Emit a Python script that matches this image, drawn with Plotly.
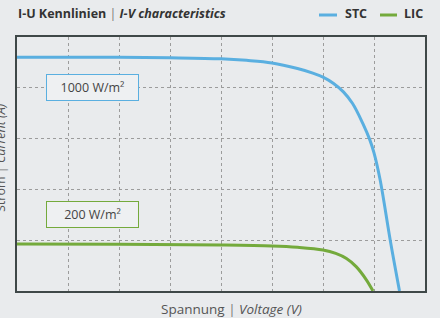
import plotly.graph_objects as go

# Data
stc_voltage = [0, 1, 2, 3, 4, 4.5, 5, 5.5, 5.8, 6, 6.2, 6.4, 6.58, 6.78, 6.92, 7.0, 7.12, 7.32, 7.5]
stc_current = [4.60, 4.60, 4.60, 4.59, 4.57, 4.54, 4.49, 4.38, 4.29, 4.21, 4.09, 3.92, 3.69, 3.30, 2.97, 2.72, 2.19, 0.99, 0]
lic_voltage = [0, 2, 4, 5, 5.5, 6, 6.25, 6.46, 6.65, 6.85, 6.98]
lic_current = [0.925, 0.92, 0.905, 0.886, 0.86, 0.807, 0.74, 0.64, 0.48, 0.22, 0]

series_names = ["STC", "LIC"]
series_colors = ["#5aafe0", "#74aa3c"]
box_labels = ["1000 W/m²", "200 W/m²"]
box_positions = [(1.49, 4.0), (1.49, 1.51)]

title_html = "<b>I-U Kennlinien</b> <span style='color:#777'>|</span> <b><i>I-V characteristics</i></b>"
x_title = "Spannung <span style='color:#777'>|</span> <i>Voltage (V)</i>"
y_title = "Strom <span style='color:#777'>|</span> <i>Current (A)</i>"

BG = "#e9ebed"
FONT = "Open Sans"

fig = go.Figure()
for name, vx, iy, col in zip(series_names, [stc_voltage, lic_voltage], [stc_current, lic_current], series_colors):
    fig.add_trace(go.Scatter(x=vx, y=iy, mode="lines", name=name,
                             line=dict(color=col, width=3, shape="spline", smoothing=1.0),
                             showlegend=False, hoverinfo="skip"))

fig.update_layout(
    width=440, height=318,
    margin=dict(l=17, r=15, t=37, b=27),
    paper_bgcolor=BG, plot_bgcolor=BG,
    font=dict(family=FONT, color="#444"),
    showlegend=False,
)

pw, ph = 440 - 17 - 15, 318 - 37 - 27
def px(x):
    return (x - 17) / pw
def py(y):
    return (318 - 27 - y) / ph

annotations = []
for lab, (bx, by), col in zip(box_labels, box_positions, series_colors):
    annotations.append(dict(x=bx, y=by, xref="x", yref="y", text=lab, showarrow=False,
                            font=dict(family=FONT, size=12.5, color="#444"),
                            bgcolor="#eef0f2", bordercolor=col, borderwidth=1, borderpad=4,
                            width=83, height=17, align="center"))

annotations.append(dict(x=px(16), y=py(14), xref="paper", yref="paper", text=title_html, showarrow=False,
                        xanchor="left", yanchor="middle", font=dict(family=FONT, size=12.5, color="#333")))
annotations.append(dict(x=px(231), y=py(309), xref="paper", yref="paper", text=x_title, showarrow=False,
                        xanchor="center", yanchor="middle", font=dict(family=FONT, size=13.5, color="#555")))
annotations.append(dict(x=px(0), y=py(158), xref="paper", yref="paper", text=y_title, showarrow=False,
                        textangle=-90, xanchor="center", yanchor="middle", font=dict(family=FONT, size=12.5, color="#555")))

legend_items = [(319, 337, 343, "STC", series_colors[0]), (380, 397, 402, "LIC", series_colors[1])]
shapes = []
for x0, x1, tx, lab, col in legend_items:
    shapes.append(dict(type="line", xref="paper", yref="paper", x0=px(x0), x1=px(x1), y0=py(15), y1=py(15),
                       line=dict(color=col, width=3)))
    annotations.append(dict(x=px(tx), y=py(14), xref="paper", yref="paper", text="<b>" + lab + "</b>",
                            showarrow=False, xanchor="left", yanchor="middle",
                            font=dict(family=FONT, size=12.5, color="#333")))

fig.update_layout(annotations=annotations, shapes=shapes)

axis_common = dict(showticklabels=False, ticks="", showgrid=True, gridcolor="#9c9c9c", griddash="dot",
                   gridwidth=1, showline=True, linecolor="#3f4848", linewidth=1.5, mirror=True,
                   zeroline=False, fixedrange=True)
fig.update_xaxes(range=[0, 8], dtick=1, **axis_common)
fig.update_yaxes(range=[0, 5], dtick=1, **axis_common)

fig.write_html("out.html", config={"displayModeBar": False},
               post_script="document.body.style.margin='0';document.body.style.background='%s';" % BG)
